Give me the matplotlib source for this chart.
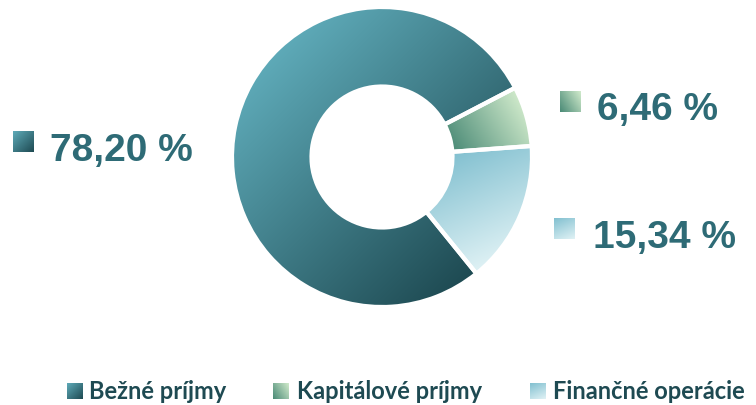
import numpy as np
import matplotlib
matplotlib.use('Agg')
import matplotlib.pyplot as plt
from matplotlib.colors import LinearSegmentedColormap

categories = ['Bežné príjmy', 'Kapitálové príjmy', 'Finančné operácie']
values = [78.20, 6.46, 15.34]
value_labels = ['78,20 %', '6,46 %', '15,34 %']

# gradient styles (start colour, end colour, direction)
grad_colors = [('#5eaab8', '#1e4a52'), ('#4a8a76', '#d0eacb'), ('#82c0d0', '#e0f2f5')]
grad_dirs = [(1.0, -1.0), (1.0, 0.6), (0.45, -1.0)]

W, H = 756, 405
fig = plt.figure(figsize=(W / 100, H / 100), dpi=100)
cx, cy, R = 382, 157, 150
ax = fig.add_axes([(cx - R) / W, (H - cy - R) / H, 2 * R / W, 2 * R / H])

inner = 0.47
wedges, _ = ax.pie(values, radius=1, startangle=-51, counterclock=False,
                   wedgeprops=dict(width=1 - inner, edgecolor='white',
                                   linewidth=3, facecolor='none'))
L = 1.0
ax.set_xlim(-L, L)
ax.set_ylim(-L, L)
ax.axis('off')

N = 700
xs = np.linspace(-L, L, N)
X, Y = np.meshgrid(xs, xs)
Rr = np.hypot(X, Y)
Ang = np.degrees(np.arctan2(Y, X)) % 360

for w, (c0, c1), (dx, dy) in zip(wedges, grad_colors, grad_dirs):
    t = X * dx + Y * dy
    span = w.theta2 - w.theta1
    mask = (Rr >= inner) & (Rr <= 1) & (((Ang - w.theta1) % 360) <= span)
    tmin, tmax = t[mask].min(), t[mask].max()
    tn = np.clip((t - tmin) / (tmax - tmin), 0, 1)
    cmap = LinearSegmentedColormap.from_list('g', [c0, c1])
    im = ax.imshow(cmap(tn), extent=(-L, L, -L, L), origin='lower',
                   zorder=0.5, interpolation='bilinear')
    im.set_clip_path(w)
    w.set_zorder(2)


def grad_square(px, py, size, colors, d):
    a = fig.add_axes([px / W, (H - py - size) / H, size / W, size / H])
    n = 50
    g = np.linspace(-1, 1, n)
    gx, gy = np.meshgrid(g, g)
    t = gx * d[0] + gy * d[1]
    t = (t - t.min()) / (t.max() - t.min())
    cmap = LinearSegmentedColormap.from_list('s', list(colors))
    a.imshow(cmap(t), origin='lower', extent=(0, 1, 0, 1), aspect='auto',
             interpolation='bilinear')
    a.axis('off')


label_col = '#2e6b76'
# value labels
lab_sq = [(13, 131), (560, 91), (554, 218)]
lab_txt = [(50, 161), (597, 120), (593, 248)]
for i in range(3):
    grad_square(lab_sq[i][0], lab_sq[i][1], 21, grad_colors[i], grad_dirs[i])
    fig.text(lab_txt[i][0] / W, 1 - lab_txt[i][1] / H, value_labels[i],
             fontsize=28, fontweight='bold', family='Liberation Sans',
             color=label_col, ha='left', va='baseline')

# legend
leg_sq = [(67, 383), (273, 383), (530, 383)]
leg_txt = [(89, 399), (297, 399), (553, 399)]
for i in range(3):
    grad_square(leg_sq[i][0], leg_sq[i][1], 16, grad_colors[i], grad_dirs[i])
    fig.text(leg_txt[i][0] / W, 1 - leg_txt[i][1] / H, categories[i],
             fontsize=17, fontweight='bold', family='Lato',
             color='#1e4a52', ha='left', va='baseline')

fig.savefig('out.png', dpi=100)
